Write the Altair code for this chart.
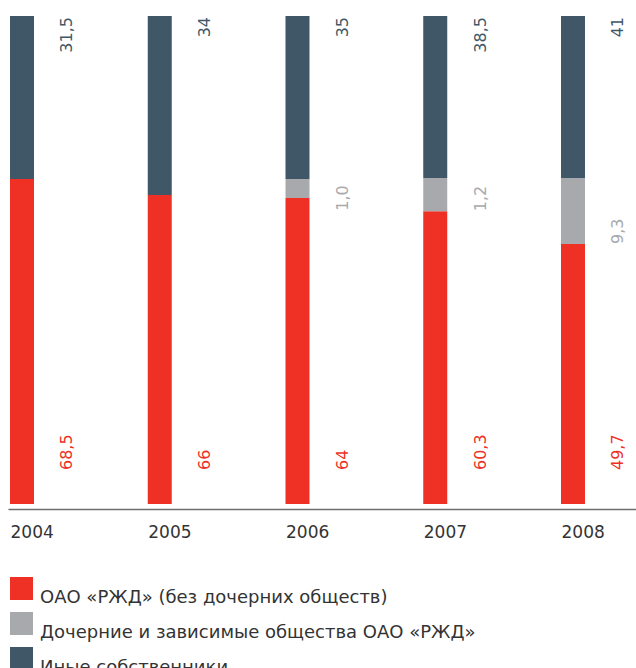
import altair as alt
import pandas as pd

years = [2004, 2005, 2006, 2007, 2008]
groups = ["ОАО «РЖД» (без дочерних обществ)",
          "Дочерние и зависимые общества ОАО «РЖД»",
          "Иные собственники"]
colors = ["#EE3124", "#A8A9AD", "#3F5767"]
label_colors = ["#EE3124", "#A8A9AD", "#3F5767"]

# bar segment heights as drawn (percent of bar height)
red_vals = [66.6, 63.3, 62.7, 60.0, 53.3]
gray_vals = [0.0, 0.0, 3.9, 6.8, 13.5]
dark_vals = [33.4, 36.7, 33.4, 33.2, 33.2]

# printed labels
red_labels = ["68,5", "66", "64", "60,3", "49,7"]
gray_labels = ["", "", "1,0", "1,2", "9,3"]
dark_labels = ["31,5", "34", "35", "38,5", "41"]

rows = []
for i, y in enumerate(years):
    for g, (vals, labs) in enumerate([(red_vals, red_labels),
                                       (gray_vals, gray_labels),
                                       (dark_vals, dark_labels)]):
        if vals[i] > 0:
            rows.append({"year": y, "group": groups[g], "gi": g,
                         "value": vals[i], "label": labs[i]})
df = pd.DataFrame(rows)

gray_df = pd.DataFrame({
    "year": years,
    "label": gray_labels,
    "anchor": [min(r, 100 - d - 6.5) for r, d in zip(red_vals, dark_vals)],
})
gray_df = gray_df[gray_df["label"] != ""]
red_df = pd.DataFrame({"year": years, "label": red_labels})
dark_df = pd.DataFrame({"year": years, "label": dark_labels, "top": [100] * 5})

FONT = "DejaVu Sans"
xscale = alt.Scale(domain=[2003.9855, 2008.5445], nice=False, zero=False, padding=0)
xaxis = alt.Axis(values=years, format="d", title=None, ticks=False,
                 grid=False, labelAlign="left", labelBaseline="top",
                 labelFlush=False, labelPadding=15, offset=5,
                 labelFont=FONT, labelFontSize=17, labelColor="#333333",
                 domainColor="#6E6E6E", domainWidth=1.5,
                 labelOverlap=False)
xenc = alt.X("year:Q", scale=xscale, axis=xaxis)
yscale = alt.Scale(domain=[0, 100], nice=False)

bars = alt.Chart(df).mark_bar(width=24, xOffset=12).encode(
    x=xenc,
    y=alt.Y("value:Q", stack="zero", scale=yscale, axis=None),
    color=alt.Color("group:N", scale=alt.Scale(domain=groups, range=colors),
                    legend=alt.Legend(title=None, orient="none", legendX=2, legendY=561,
                                      direction="vertical", symbolType="square",
                                      symbolSize=529, symbolStrokeWidth=0,
                                      symbolOpacity=1, rowPadding=5, labelOffset=7,
                                      labelFont=FONT, labelFontSize=18,
                                      labelColor="#333333", labelBaseline="top",
                                      labelLimit=0, padding=0)),
    order=alt.Order("gi:Q", sort="ascending"),
)

red_text = alt.Chart(red_df).mark_text(
    angle=270, align="left", baseline="middle", xOffset=57.5,
    font=FONT, fontSize=16, color=label_colors[0]
).encode(x=xenc, y=alt.value(454), text="label:N")

gray_text = alt.Chart(gray_df).mark_text(
    angle=270, align="left", baseline="middle", xOffset=57.5,
    font=FONT, fontSize=16, color=label_colors[1]
).encode(x=xenc, y=alt.Y("anchor:Q", scale=yscale, axis=None), text="label:N")

dark_text = alt.Chart(dark_df).mark_text(
    angle=270, align="right", baseline="middle", xOffset=57.5, dx=-1,
    font=FONT, fontSize=16, color=label_colors[2]
).encode(x=xenc, y=alt.Y("top:Q", scale=yscale, axis=None), text="label:N")

chart = alt.layer(bars, red_text, gray_text, dark_text).properties(
    width=628, height=488,
    background="white",
    autosize=alt.AutoSizeParams(type="none"),
    padding={"left": 8, "top": 16, "right": 0, "bottom": 164},
).configure_view(stroke=None)

chart.save("out.html", embed_options={"renderer": "svg", "actions": False})
